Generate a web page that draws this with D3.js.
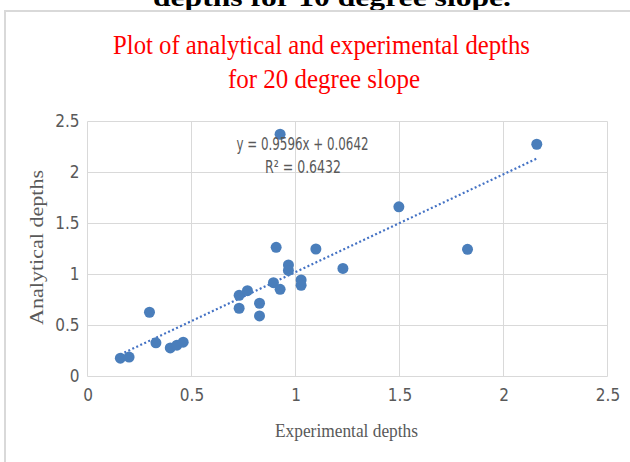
<!DOCTYPE html>
<html>
<head>
<meta charset="utf-8">
<script src="https://cdn.jsdelivr.net/npm/d3@7"></script>
<style>
  html, body { margin: 0; padding: 0; background: #ffffff; }
  svg { display: block; }
</style>
</head>
<body>
<script>
// ---- data ----
const experimental = [0.158, 0.20, 0.298, 0.329, 0.398, 0.43, 0.46, 0.729, 0.729, 0.769, 0.827, 0.827, 0.894, 0.907, 0.926, 0.926, 0.966, 0.966, 1.027, 1.027, 1.098, 1.228, 1.497, 1.827, 2.16];
const analytical   = [0.18, 0.19, 0.63, 0.33, 0.28, 0.307, 0.336, 0.796, 0.669, 0.841, 0.718, 0.594, 0.92, 1.266, 0.855, 2.375, 1.093, 1.04, 0.946, 0.894, 1.25, 1.06, 1.664, 1.247, 2.277];
const xTicks = [0, 0.5, 1, 1.5, 2, 2.5];
const yTicks = [0, 0.5, 1, 1.5, 2, 2.5];
const trendSlope = 0.9596;
const trendIntercept = 0.0642;
const titleLines = ["Plot of analytical  and experimental  depths", "for 20 degree slope"];
const headerText = "depths for 10 degree slope.";
const equationText = "y = 0.9596x + 0.0642";
const r2Text = "R² = 0.6432";
const xTitle = "Experimental depths";
const yTitle = "Analytical  depths";

const W = 630, H = 462;
const svg = d3.select("body").append("svg").attr("width", W).attr("height", H);

// header from the page above, cut off at the top edge as in the reference
svg.append("text")
  .attr("x", 153).attr("y", 6)
  .attr("textLength", 358).attr("lengthAdjust", "spacingAndGlyphs")
  .style("font-family", "'Liberation Serif', 'DejaVu Serif', serif")
  .style("font-weight", "bold").style("font-size", "25px")
  .attr("fill", "#000").text(headerText);

// chart border
svg.append("rect")
  .attr("x", 5).attr("y", 11).attr("width", 640).attr("height", 470)
  .attr("fill", "#fff").attr("stroke", "#d9d9d9").attr("stroke-width", 2);

// title
const titleSpec = [
  {x: 113, y: 54, len: 417},
  {x: 228, y: 88, len: 192}
];
titleLines.forEach((t, i) => {
  svg.append("text")
    .attr("x", titleSpec[i].x).attr("y", titleSpec[i].y)
    .attr("textLength", titleSpec[i].len).attr("lengthAdjust", "spacingAndGlyphs")
    .style("font-family", "'Liberation Serif', 'DejaVu Serif', serif")
    .style("font-size", "27px")
    .attr("fill", "#ff0000").text(t);
});

// scales
const x = d3.scaleLinear().domain([0, 2.5]).range([87.5, 607.5]);
const y = d3.scaleLinear().domain([0, 2.5]).range([376.5, 121.5]);

const grid = svg.append("g");
grid.selectAll("line.v").data(xTicks).enter().append("line")
  .attr("x1", d => x(d)).attr("x2", d => x(d))
  .attr("y1", y(0)).attr("y2", y(2.5))
  .attr("stroke", "#d9d9d9").attr("stroke-width", 1);
grid.selectAll("line.h").data(yTicks).enter().append("line")
  .attr("x1", x(0)).attr("x2", x(2.5))
  .attr("y1", d => y(d)).attr("y2", d => y(d))
  .attr("stroke", "#d9d9d9").attr("stroke-width", 1);

// axes (labels only)
const tickFont = "'Liberation Sans Narrow', 'DejaVu Sans Condensed', sans-serif";
const xAxis = svg.append("g").attr("transform", `translate(0,${y(0)})`)
  .call(d3.axisBottom(x).tickValues(xTicks).tickSize(0).tickPadding(12).tickFormat(d3.format("")));
const yAxis = svg.append("g").attr("transform", `translate(${x(0)},0)`)
  .call(d3.axisLeft(y).tickValues(yTicks).tickSize(0).tickPadding(8).tickFormat(d3.format("")));
[xAxis, yAxis].forEach(a => {
  a.select(".domain").remove();
  a.selectAll("text").attr("fill", "#595959")
    .style("font-family", tickFont).style("font-size", "17px");
});

// trendline
const xmin = d3.min(experimental), xmax = d3.max(experimental);
svg.append("line")
  .attr("x1", x(xmin)).attr("y1", y(trendSlope * xmin + trendIntercept))
  .attr("x2", x(xmax)).attr("y2", y(trendSlope * xmax + trendIntercept))
  .attr("stroke", "#4472c4").attr("stroke-width", 2.2)
  .attr("stroke-dasharray", "2,2.4");

// points
svg.append("g").selectAll("circle").data(experimental).enter().append("circle")
  .attr("cx", d => x(d)).attr("cy", (d, i) => y(analytical[i]))
  .attr("r", 5.5).attr("fill", "#4a7ebb");

// equation
svg.append("text").attr("x", 236.5).attr("y", 149.5)
  .attr("textLength", 132).attr("lengthAdjust", "spacingAndGlyphs")
  .style("font-family", tickFont).style("font-size", "17.5px")
  .attr("fill", "#595959").text(equationText);
svg.append("text").attr("x", 265).attr("y", 172.5)
  .attr("textLength", 76).attr("lengthAdjust", "spacingAndGlyphs")
  .style("font-family", tickFont).style("font-size", "17.5px")
  .attr("fill", "#595959").text(r2Text);

// axis titles
svg.append("text").attr("x", 275).attr("y", 437)
  .attr("textLength", 143).attr("lengthAdjust", "spacingAndGlyphs")
  .style("font-family", "'Liberation Serif', 'DejaVu Serif', serif")
  .style("font-size", "18px").attr("fill", "#595959").text(xTitle);
svg.append("text")
  .attr("transform", "translate(43,325) rotate(-90)")
  .attr("textLength", 155).attr("lengthAdjust", "spacingAndGlyphs")
  .style("font-family", "'Liberation Serif', 'DejaVu Serif', serif")
  .style("font-size", "18px").attr("fill", "#595959").text(yTitle);
</script>
</body>
</html>
